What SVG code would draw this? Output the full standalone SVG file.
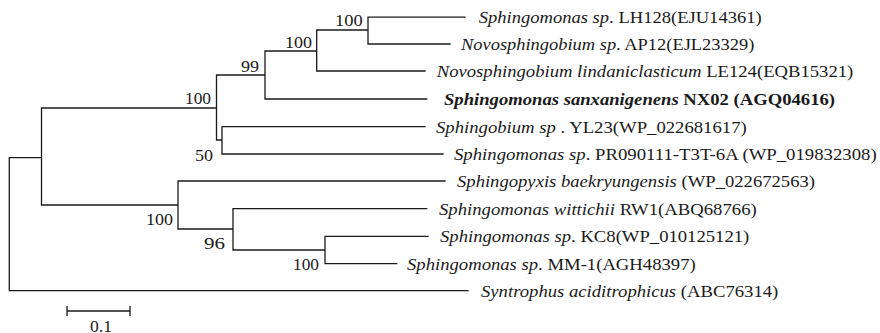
<svg xmlns="http://www.w3.org/2000/svg" width="880" height="333" viewBox="0 0 880 333">
<style>
.br{fill:none;stroke:#1a1a1a;stroke-width:1.3;stroke-linecap:square}
.t{font-family:"Liberation Serif","DejaVu Serif","Noto Serif",serif;font-size:16px;fill:#1a1a1a}
.i{font-style:italic}
.b{font-weight:bold}
</style>
<rect width="880" height="333" fill="#fff"/>
<g id="connectors">
<path class="br" d="M9.3,157.7V290.7H468 M9.3,157.7H41.5 M41.5,108V205 M41.5,108H216.5 M41.5,205H178 M216.5,75V140 M216.5,75H265 M216.5,140H222 M222,126.7V154 M222,126.7H425 M222,154H443 M265,51V99 M265,51H316.7 M265,99H426.7 M316.7,30V71 M316.7,30H368 M316.7,71H425 M368,17.2V44 M368,17.2H465 M368,44H450 M178,181V229 M178,181H445 M178,229H233 M233,208.7V250 M233,208.7H426.7 M233,250H325 M325,236.3V263.7 M325,236.3H428 M325,263.7H396.7"/>
</g>
<g id="bootstrap" class="t">
<text x="335" y="26" textLength="27.7" lengthAdjust="spacingAndGlyphs">100</text>
<text x="285" y="47.7" textLength="27" lengthAdjust="spacingAndGlyphs">100</text>
<text x="241" y="71.7" textLength="18" lengthAdjust="spacingAndGlyphs">99</text>
<text x="185" y="104.3" textLength="26" lengthAdjust="spacingAndGlyphs">100</text>
<text x="195" y="160.7" textLength="18" lengthAdjust="spacingAndGlyphs">50</text>
<text x="146" y="225" textLength="27" lengthAdjust="spacingAndGlyphs">100</text>
<text x="204" y="249.3" textLength="21" lengthAdjust="spacingAndGlyphs">96</text>
<text x="293" y="270" textLength="26" lengthAdjust="spacingAndGlyphs">100</text>
</g>
<g class="t">
<g id="leaf-LH128"><text x="478.7" y="23" textLength="283" lengthAdjust="spacingAndGlyphs"><tspan class="i">Sphingomonas sp</tspan>. LH128(EJU14361)</text></g>
<g id="leaf-AP12"><text x="461" y="50" textLength="293.3" lengthAdjust="spacingAndGlyphs"><tspan class="i">Novosphingobium sp</tspan>. AP12(EJL23329)</text></g>
<g id="leaf-LE124"><text x="436.7" y="77" textLength="416.6" lengthAdjust="spacingAndGlyphs"><tspan class="i">Novosphingobium lindaniclasticum</tspan> LE124(EQB15321)</text></g>
<g id="leaf-NX02"><text class="b" x="444" y="105" textLength="391" lengthAdjust="spacingAndGlyphs"><tspan class="i">Sphingomonas sanxanigenens</tspan> NX02 (AGQ04616)</text></g>
<g id="leaf-YL23"><text x="436" y="132.5" textLength="310.7" lengthAdjust="spacingAndGlyphs"><tspan class="i">Sphingobium sp</tspan> . YL23(WP_022681617)</text></g>
<g id="leaf-PR090111"><text x="454" y="159.5" textLength="422.7" lengthAdjust="spacingAndGlyphs"><tspan class="i">Sphingomonas sp</tspan>. PR090111-T3T-6A (WP_019832308)</text></g>
<g id="leaf-Sphingopyxis"><text x="457" y="187" textLength="358" lengthAdjust="spacingAndGlyphs"><tspan class="i">Sphingopyxis baekryungensis</tspan> (WP_022672563)</text></g>
<g id="leaf-RW1"><text x="439" y="214.5" textLength="317.7" lengthAdjust="spacingAndGlyphs"><tspan class="i">Sphingomonas wittichii</tspan> RW1(ABQ68766)</text></g>
<g id="leaf-KC8"><text x="440" y="242" textLength="309.3" lengthAdjust="spacingAndGlyphs"><tspan class="i">Sphingomonas sp</tspan>. KC8(WP_010125121)</text></g>
<g id="leaf-MM1"><text x="407" y="269.5" textLength="288.7" lengthAdjust="spacingAndGlyphs"><tspan class="i">Sphingomonas sp</tspan>. MM-1(AGH48397)</text></g>
<g id="leaf-Syntrophus"><text x="481" y="296.5" textLength="297.3" lengthAdjust="spacingAndGlyphs"><tspan class="i">Syntrophus aciditrophicus</tspan> (ABC76314)</text></g>
</g>
<g id="scale-bar">
<path class="br" d="M67,311H130 M67,306.7V315.3 M130,306.7V315.3"/>
<text class="t" x="90" y="331.5" textLength="22" lengthAdjust="spacingAndGlyphs">0.1</text>
</g>
</svg>
